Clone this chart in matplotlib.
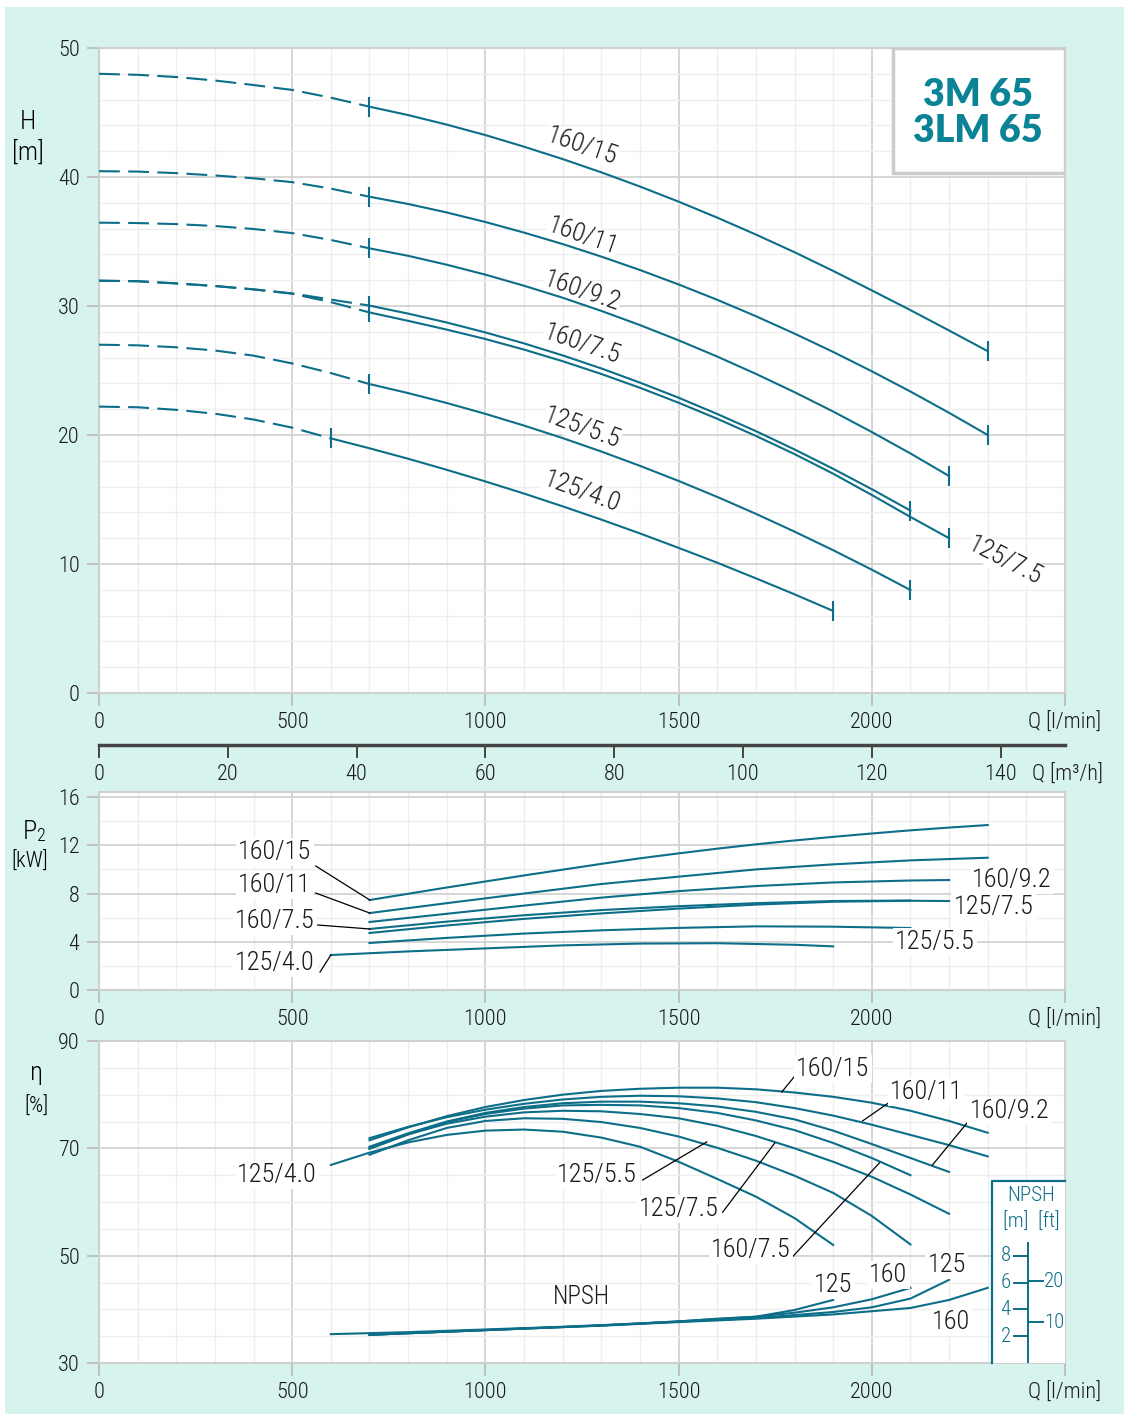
import matplotlib
matplotlib.use('Agg')
import matplotlib.pyplot as plt
from matplotlib.patches import Rectangle
from matplotlib.ticker import MultipleLocator

plt.rcParams['font.family'] = ['Roboto Condensed', 'DejaVu Sans']
plt.rcParams['font.stretch'] = 'condensed'
plt.rcParams['font.weight'] = 'light'

LINE = '#0c6e88'
MINT = '#d7f3ed'
TITLE_C = '#0a8397'

# ---------------- H(Q) curves  [l/min] -> [m] ----------------
q_dash = [0, 100, 200, 300, 400, 500, 600, 700]
q_dash_40 = [0, 100, 200, 300, 400, 500, 600]

h_160_15_dash = [48.0, 47.92, 47.75, 47.48, 47.13, 46.75, 46.15, 45.45]
h_160_11_dash = [40.45, 40.42, 40.3, 40.12, 39.9, 39.6, 39.1, 38.47]
h_160_92_dash = [36.46, 36.43, 36.35, 36.2, 35.97, 35.65, 35.12, 34.47]
h_160_75_dash = [31.96, 31.92, 31.75, 31.55, 31.29, 30.98, 30.5, 30.03]
h_125_75_dash = [31.96, 31.92, 31.75, 31.55, 31.29, 30.95, 30.3, 29.5]
h_125_55_dash = [27.0, 26.95, 26.8, 26.55, 26.15, 25.55, 24.8, 23.95]
h_125_40_dash = [22.2, 22.15, 21.95, 21.65, 21.2, 20.57, 19.74]

q_2300 = list(range(700, 2301, 100))
q_2200 = list(range(700, 2201, 100))
q_2100 = list(range(700, 2101, 100))
q_1900 = list(range(600, 1901, 100))

h_160_15 = [45.45, 44.8, 44.06, 43.25, 42.35, 41.39, 40.36, 39.26, 38.09,
            36.85, 35.54, 34.17, 32.72, 31.21, 29.68, 28.1, 26.5]
h_160_11 = [38.47, 37.91, 37.25, 36.51, 35.69, 34.8, 33.83, 32.79, 31.67,
            30.48, 29.21, 27.86, 26.44, 24.94, 23.37, 21.72, 20.0]
h_160_92 = [34.47, 33.89, 33.2, 32.43, 31.57, 30.64, 29.62, 28.52, 27.34,
            26.08, 24.74, 23.32, 21.82, 20.23, 18.57, 16.82]
h_160_75 = [30.03, 29.41, 28.72, 27.95, 27.1, 26.17, 25.16, 24.06, 22.89,
            21.63, 20.3, 18.88, 17.38, 15.8, 14.14]
h_125_75 = [29.5, 28.85, 28.17, 27.44, 26.62, 25.72, 24.73, 23.66, 22.5,
            21.26, 19.93, 18.52, 17.0, 15.35, 13.65, 12.0]
h_125_55 = [23.95, 23.25, 22.48, 21.64, 20.73, 19.76, 18.72, 17.61, 16.44,
            15.2, 13.89, 12.51, 11.07, 9.56, 7.98]
h_125_40 = [19.74, 18.97, 18.16, 17.3, 16.4, 15.46, 14.47, 13.44, 12.37,
            11.25, 10.1, 8.89, 7.65, 6.36]

# ---------------- P2(Q) curves [kW] ----------------
qp_160_15 = list(range(700, 2301, 100))
p_160_15 = [7.46, 7.98, 8.5, 9.0, 9.5, 9.98, 10.46, 10.92, 11.33, 11.72, 12.08,
            12.4, 12.7, 12.98, 13.24, 13.47, 13.68]
qp_160_11 = [700, 900, 1100, 1300, 1500, 1700, 1900, 2100, 2300]
p_160_11 = [6.38, 7.2, 8.0, 8.79, 9.4, 10.0, 10.42, 10.75, 10.97]
qp_160_92 = [700, 900, 1100, 1300, 1500, 1700, 1900, 2100, 2200]
p_160_92 = [5.64, 6.32, 7.0, 7.66, 8.2, 8.62, 8.92, 9.08, 9.12]
qp_160_75 = [700, 900, 1100, 1300, 1500, 1700, 1900, 2100]
p_160_75 = [5.06, 5.67, 6.2, 6.63, 6.95, 7.2, 7.38, 7.42]
qp_125_75 = [700, 900, 1100, 1300, 1500, 1700, 1900, 2100, 2200]
p_125_75 = [4.73, 5.35, 5.9, 6.35, 6.75, 7.08, 7.32, 7.4, 7.38]
qp_125_55 = [700, 900, 1100, 1300, 1500, 1700, 1900, 2100]
p_125_55 = [3.9, 4.32, 4.68, 4.95, 5.15, 5.28, 5.25, 5.14]
qp_125_40 = [600, 800, 1000, 1200, 1400, 1600, 1800, 1900]
p_125_40 = [2.9, 3.2, 3.45, 3.7, 3.85, 3.88, 3.75, 3.62]

# ---------------- efficiency [%] ----------------
e_160_15 = [71.5, 73.9, 76.0, 77.7, 79.0, 80.0, 80.7, 81.1, 81.3, 81.3, 81.0,
            80.4, 79.6, 78.5, 77.0, 75.1, 72.9]
e_160_11 = [71.9, 74.0, 75.8, 77.2, 78.3, 79.1, 79.6, 79.8, 79.7, 79.3, 78.6,
            77.5, 76.1, 74.4, 72.5, 70.6, 68.5]
e_160_92 = [70.3, 72.8, 75.0, 76.6, 77.7, 78.4, 78.7, 78.7, 78.4, 77.8, 76.8,
            75.4, 73.3, 70.8, 68.2, 65.6]
e_160_75 = [69.9, 72.6, 74.9, 76.4, 77.4, 78.0, 78.1, 78.0, 77.5, 76.6, 75.2,
            73.4, 71.0, 68.2, 65.0]
e_125_75 = [70.0, 72.6, 74.6, 75.9, 76.7, 77.0, 76.9, 76.4, 75.6, 74.2, 72.3,
            70.0, 67.5, 64.7, 61.4, 57.8]
e_125_55 = [68.8, 71.5, 73.8, 75.1, 75.6, 75.5, 74.9, 73.8, 72.2, 70.1, 67.7,
            64.9, 61.7, 57.4, 52.1]
e_125_40 = [66.9, 69.2, 71.1, 72.5, 73.3, 73.5, 73.1, 72.0, 70.3, 67.5, 64.3,
            61.0, 57.0, 52.0]

# ---------------- NPSH [m] ----------------
qn_a = [600, 800, 1000, 1200, 1400, 1500, 1600, 1700, 1800, 1900]
npsh_a = [2.15, 2.3, 2.5, 2.7, 2.95, 3.1, 3.3, 3.45, 3.95, 4.7]
qn_b = [700, 1000, 1300, 1500, 1700, 1800, 1900, 2000, 2100]
npsh_b = [2.1, 2.45, 2.8, 3.1, 3.45, 3.75, 4.15, 4.75, 5.6]
qn_c = [700, 1000, 1300, 1500, 1700, 1900, 2000, 2100, 2200]
npsh_c = [2.1, 2.45, 2.8, 3.08, 3.35, 3.8, 4.15, 4.8, 6.2]
qn_d = [700, 1000, 1300, 1500, 1700, 1900, 2100, 2200, 2300]
npsh_d = [2.1, 2.45, 2.78, 3.05, 3.3, 3.62, 4.1, 4.7, 5.6]

q_ticks = [0, 500, 1000, 1500, 2000, 2500]
q_ticklabels = ['0', '500', '1000', '1500', '2000', 'Q [l/min]']
m3h_ticks = [0, 20, 40, 60, 80, 100, 120, 140]

# ---------------- figure ----------------
W, H = 1129, 1419
fig = plt.figure(figsize=(W / 100, H / 100), dpi=100)
fig.patch.set_facecolor('white')
fig.add_artist(Rectangle((5 / W, 5 / H), 1119 / W, 1407 / H, transform=fig.transFigure,
                         facecolor=MINT, edgecolor='none', zorder=0))


def style(ax, ymax, ymin, yticks):
    ax.set_facecolor('white')
    ax.set_xlim(0, 2500)
    ax.set_ylim(yticks[0], ymax)
    ax.set_xticks(q_ticks)
    ax.set_xticklabels(q_ticklabels)
    ax.set_yticks(yticks)
    ax.xaxis.set_minor_locator(MultipleLocator(100))
    ax.yaxis.set_minor_locator(MultipleLocator(ymin))
    ax.grid(which='major', color='#d3d3d3', lw=1.3)
    ax.grid(which='minor', color='#eeeeee', lw=1.0)
    ax.set_axisbelow(True)
    ax.tick_params(which='major', direction='out', length=9, width=1.2,
                   color='#b8b8b8', labelsize=16, pad=5, labelcolor='#1a1a1a')
    ax.tick_params(which='minor', length=0)
    for s in ax.spines.values():
        s.set_color('#d0d0d0')
        s.set_linewidth(1.5)


lab = dict(fontsize=19, color='#1a1a1a', zorder=6,
           bbox=dict(facecolor='white', edgecolor='none', pad=1.5))
hlab = dict(fontsize=19, color='#1a1a1a', zorder=6,
            bbox=dict(facecolor='white', edgecolor='none', pad=0.2))
LW = 1.5

# ---- H chart ----
ax_h = fig.add_axes([99 / W, 1 - 693 / H, 966 / W, 645 / H])
style(ax_h, 50, 2, [0, 10, 20, 30, 40, 50])

dashed = [(q_dash, h_160_15_dash), (q_dash, h_160_11_dash), (q_dash, h_160_92_dash),
          (q_dash, h_160_75_dash), (q_dash, h_125_75_dash), (q_dash, h_125_55_dash),
          (q_dash_40, h_125_40_dash)]
solid = [(q_2300, h_160_15), (q_2300, h_160_11), (q_2200, h_160_92), (q_2100, h_160_75),
         (q_2200, h_125_75), (q_2100, h_125_55), (q_1900, h_125_40)]
for q, h in dashed:
    ax_h.plot(q, h, color=LINE, lw=LW, ls=(0, (10, 4)), zorder=3)
for q, h in solid:
    ax_h.plot(q, h, color=LINE, lw=LW, zorder=7, marker='|', ms=15, mew=1.5,
              markevery=[0, len(q) - 1])

h_labels = [('160/15', 1250, 42.4, -19), ('160/11', 1252, 35.4, -19),
            ('160/9.2', 1250, 31.1, -19), ('160/7.5', 1250, 27.0, -19),
            ('125/5.5', 1250, 20.5, -20), ('125/4.0', 1250, 15.6, -20),
            ('125/7.5', 2344, 10.2, -27)]
for t, x, y, r in h_labels:
    ax_h.text(x, y, t, rotation=r, rotation_mode='anchor', ha='center', va='center', **hlab)

ax_h.add_patch(Rectangle((0.822, 0.806), 0.178, 0.194, transform=ax_h.transAxes,
                         facecolor='white', edgecolor='#cccccc', lw=2.5, zorder=8))
ax_h.text(0.910, 0.927, '3M 65', transform=ax_h.transAxes, ha='center', va='center',
          fontsize=27, fontweight='heavy', color=TITLE_C, family='Lato',
          fontstretch='normal', zorder=9)
ax_h.text(0.910, 0.871, '3LM 65', transform=ax_h.transAxes, ha='center', va='center',
          fontsize=27, fontweight='heavy', color=TITLE_C, family='Lato',
          fontstretch='normal', zorder=9)

fig.text(28 / W, 1 - 122 / H, 'H', fontsize=19, ha='center', va='center')
fig.text(28 / W, 1 - 152 / H, '[m]', fontsize=19, ha='center', va='center')

# ---- m3/h scale ----
ax_m = fig.add_axes([99 / W, 1 - 745 / H, 966 / W, 0.0001])
ax_m.set_facecolor('none')
ax_m.set_xlim(0, 150)
ax_m.set_yticks([])
ax_m.set_xticks(m3h_ticks)
for k in ['top', 'left', 'right']:
    ax_m.spines[k].set_visible(False)
ax_m.spines['bottom'].set_color('#444444')
ax_m.spines['bottom'].set_linewidth(2.5)
ax_m.tick_params(axis='x', direction='out', length=9, width=1.4, color='#444444',
                 labelsize=16, pad=5, labelcolor='#1a1a1a')
ax_m.annotate('Q [m³/h]', xy=(150, 0), xycoords=('data', 'axes fraction'),
              xytext=(2, -14), textcoords='offset points', ha='center', va='top',
              fontsize=16, color='#1a1a1a')

# ---- P2 chart ----
ax_p = fig.add_axes([99 / W, 1 - 990 / H, 966 / W, 198 / H])
style(ax_p, 16.42, 2, [0, 4, 8, 12, 16])
p_curves = [(qp_160_15, p_160_15), (qp_160_11, p_160_11), (qp_160_92, p_160_92),
            (qp_160_75, p_160_75), (qp_125_75, p_125_75), (qp_125_55, p_125_55),
            (qp_125_40, p_125_40)]
for q, p in p_curves:
    ax_p.plot(q, p, color=LINE, lw=LW, zorder=3)

p_left = [('160/15', 455, 11.44, (561, 701), (10.28, 7.46)),
          ('160/11', 455, 8.71, (561, 701), (8.04, 6.38)),
          ('160/7.5', 455, 5.72, (566, 701), (5.39, 5.06)),
          ('125/4.0', 455, 2.24, (572, 600), (1.49, 2.9))]
for t, x, y, lx, ly in p_left:
    ax_p.text(x, y, t, ha='center', va='center', **lab)
    ax_p.plot(lx, ly, color='black', lw=0.9, zorder=5)
for t, x, y in [('160/9.2', 2362, 9.12), ('125/7.5', 2315, 6.88), ('125/5.5', 2163, 3.98)]:
    ax_p.text(x, y, t, ha='center', va='center', **lab)

fig.text(30 / W, 1 - 832 / H, 'P', fontsize=19, ha='center', va='center')
fig.text(41 / W, 1 - 836 / H, '2', fontsize=13, ha='center', va='center')
fig.text(30 / W, 1 - 862 / H, '[kW]', fontsize=16, ha='center', va='center')

# ---- efficiency chart ----
ax_e = fig.add_axes([99 / W, 1 - 1363 / H, 966 / W, 322 / H])
style(ax_e, 90, 5, [30, 50, 70, 90])
e_curves = [(q_2300, e_160_15), (q_2300, e_160_11), (q_2200, e_160_92),
            (q_2100, e_160_75), (q_2200, e_125_75), (q_2100, e_125_55),
            (q_1900, e_125_40)]
for q, e in e_curves:
    ax_e.plot(q, e, color=LINE, lw=LW, zorder=3)

e_labels = [('160/15', 1899, 84.8, (1808, 1767), (84.1, 80.5)),
            ('160/11', 2142, 80.5, (2054, 1976), (79.0, 75.1)),
            ('160/9.2', 2356, 77.0, (2253, 2157), (75.3, 66.9)),
            ('125/5.5', 1288, 65.0, (1407, 1573), (64.1, 71.2)),
            ('125/7.5', 1500, 58.7, (1614, 1749), (58.1, 71.0)),
            ('160/7.5', 1687, 51.1, (1795, 2020), (49.8, 67.3))]
for t, x, y, lx, ly in e_labels:
    ax_e.plot(lx, ly, color='black', lw=0.9, zorder=5)
    ax_e.text(x, y, t, ha='center', va='center', **lab)
ax_e.text(460, 65.0, '125/4.0', ha='center', va='center', **lab)
ax_e.text(1249, 42.3, 'NPSH', ha='center', va='center', fontsize=18, color='#1a1a1a', zorder=6)

fig.text(36 / W, 1 - 1073 / H, 'η', fontsize=19, ha='center', va='center')
fig.text(36 / W, 1 - 1107 / H, '[%]', fontsize=16, ha='center', va='center')

# ---- NPSH (own scale in metres over the efficiency chart) ----
ax_n = fig.add_axes([99 / W, 1 - 1363 / H, 966 / W, 322 / H])
ax_n.set_xlim(0, 2500)
ax_n.set_ylim(0, 24)
ax_n.axis('off')
for q, n in [(qn_a, npsh_a), (qn_b, npsh_b), (qn_c, npsh_c), (qn_d, npsh_d)]:
    ax_n.plot(q, n, color=LINE, lw=LW, zorder=3)
for t, x, y in [('125', 1899, 5.8), ('160', 2043, 6.55), ('125', 2194, 7.3), ('160', 2206, 3.05)]:
    ax_n.text(x, y, t, ha='center', va='center', **lab)

ax_n.add_patch(Rectangle((2310, 0), 190, 13.6, facecolor='white', edgecolor='none', zorder=7))
ax_n.plot([2310, 2310, 2500], [0, 13.6, 13.6], color=LINE, lw=1.6, zorder=8, clip_on=False)
ax_n.plot([2403, 2403], [0, 8.95], color=LINE, lw=1.4, zorder=8)
for m in [2, 4, 6, 8]:
    ax_n.plot([2369, 2403], [m, m], color=LINE, lw=1.4, zorder=8)
    ax_n.text(2346, m, str(m), ha='center', va='center', fontsize=15, color=LINE, zorder=8)
for ft in [10, 20]:
    ax_n.plot([2403, 2442], [ft * 0.3048, ft * 0.3048], color=LINE, lw=1.4, zorder=8)
    ax_n.text(2472, ft * 0.3048, str(ft), ha='center', va='center', fontsize=15,
              color=LINE, zorder=8)
ax_n.text(2413, 12.5, 'NPSH', ha='center', va='center', fontsize=15, color=LINE, zorder=8)
ax_n.text(2413, 10.5, '[m]  [ft]', ha='center', va='center', fontsize=15, color=LINE, zorder=8)

fig.savefig('out.png', dpi=100, facecolor=fig.get_facecolor())
